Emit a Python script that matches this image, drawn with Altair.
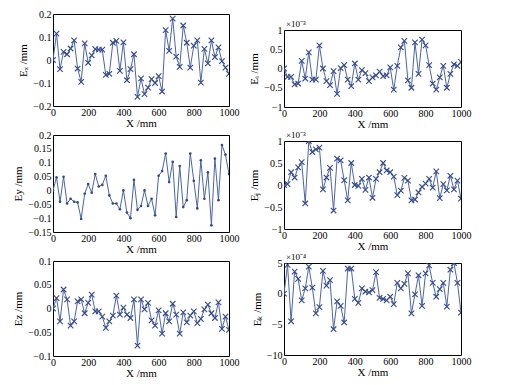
import altair as alt
import pandas as pd

x_mm = list(range(0, 1001, 20))
x_ticks = [0, 200, 400, 600, 800, 1000]

ex = [0, 0.115, -0.04, 0.035, 0.025, 0.05, 0.085, -0.037, -0.095, 0.072,
      -0.012, 0.02, 0.047, 0.045, 0.045, -0.065, -0.06, 0.075, 0.083, -0.047,
      0.077, -0.088, -0.04, 0.025, -0.16, -0.08, -0.148, -0.12, -0.083, -0.1,
      -0.07, -0.137, 0.13, 0.04, 0.18, 0.015, -0.03, 0.15, 0.075, -0.033,
      0.062, 0.085, -0.098, 0.048, -0.015, 0.085, 0.013, 0.055, -0.005, -0.033,
      -0.06]
ei = [0, -0.22, -0.22, -0.41, -0.39, 0.2, -0.26, 0.42, -0.29, -0.29,
      0.6, 0, -0.33, -0.43, -0.07, -0.66, 0.01, 0.09, -0.29, -0.46,
      0.13, -0.29, -0.04, -0.12, -0.33, -0.23, -0.18, -0.08, -0.2, -0.18,
      0.03, -0.55, 0.07, 0.55, 0.72, -0.31, -0.5, 0.68, -0.14, 0.75,
      0.6, 0.09, -0.39, -0.55, -0.23, 0.07, -0.5, -0.14, 0.11, 0.07,
      0.17]
ey = [0, 0.047, -0.041, 0.049, -0.047, -0.03, -0.041, -0.043, -0.103, -0.012,
      0.023, -0.008, 0.059, 0.014, 0.02, 0.053, -0.018, -0.047, -0.047, -0.068,
      0.0, -0.08, -0.1, 0.038, -0.07, -0.056, 0.0, -0.056, -0.03, -0.09,
      0.053, 0.07, 0.133, 0.03, 0.103, -0.096, 0.088, -0.06, -0.035, 0.133,
      0.035, -0.065, 0.109, -0.03, 0.065, -0.126, 0.115, -0.035, 0.164, 0.129,
      0.059]
ej = [0, 0.02, 0.29, 0.17, 0.4, 0.52, -0.42, 1.0, 0.75, 0.81,
      0.85, -0.1, 0.17, 0.39, -0.58, 0.6, 0.56, 0.11, -0.35, 0.5,
      0, -0.02, 0.14, -0.11, 0.17, -0.29, 0.14, 0.29, 0.5, 0.33,
      0.29, 0.19, -0.23, -0.13, 0.16, 0.1, -0.35, -0.33, -0.17, -0.04,
      0.03, 0.14, -0.06, 0.31, -0.3, 0.02, -0.12, 0.21, -0.1, 0.1,
      -0.31]
ez = [0, 0.022, -0.027, 0.04, 0.019, -0.036, -0.027, 0.015, 0.019, -0.01,
      0.012, 0.029, -0.006, -0.006, -0.017, -0.041, -0.027, -0.015, 0.027, -0.013,
      0.002, -0.013, -0.02, 0.019, -0.078, 0.019, -0.002, 0.012, -0.025, -0.036,
      -0.004, -0.053, -0.01, -0.027, 0.01, -0.013, -0.053, -0.008, -0.029, -0.015,
      -0.006, -0.031, -0.022, -0.002, 0.008, -0.01, -0.02, 0.013, -0.043, -0.017,
      -0.045]
ek = [0, 4.7, -4.5, 3.6, 2.4, -1.1, 0.85, 4.4, 1.0, -3.2,
      -2.2, 3.7, 1.3, 2.2, -5.8, -1.25, -2.0, -4.7, 4.1, 4.1,
      -0.85, -1.5, 0.85, 0.35, 0.2, 0.57, 3.5, -0.7, -0.85, -1.1,
      -0.5, -1.7, 1.75, 0.85, 1.6, 3.3, -3.2, -0.1, 3.0, -2.0,
      3.3, 4.6, 1.75, -0.5, 0.75, 1.75, -2.1, 3.9, 5.0, 1.75,
      -3.1]

LINE = "#4a64a6"
MARK = "#33498a"
FONT = "Liberation Serif"
XSHAPE = "M-1,-1L1,1M-1,1L1,-1"


def panel(values, ytitle, domain, yticks, w, h, marker="x", exp=None):
    df = pd.DataFrame({"X": x_mm, "E": values})
    base = alt.Chart(df).encode(
        x=alt.X("X:Q", scale=alt.Scale(domain=[0, 1000], nice=False),
                axis=alt.Axis(values=x_ticks, title="X /mm", labelFlush=False, format="d")),
        y=alt.Y("E:Q", scale=alt.Scale(domain=domain, nice=False, zero=False),
                axis=alt.Axis(values=yticks, title=ytitle, format=".2~f")),
    )
    line = base.mark_line(color=LINE, strokeWidth=1, clip=True)
    if marker == "x":
        pts = base.mark_point(shape=XSHAPE, size=30, filled=False, color=MARK,
                              strokeWidth=1.1, opacity=1, clip=True)
    else:
        pts = base.mark_circle(size=7, color=MARK, opacity=1, clip=True)
    layers = [line, pts]
    if exp:
        txt = alt.Chart(pd.DataFrame({"t": [exp]})).mark_text(
            align="left", baseline="bottom", fontSize=9, font=FONT, color="black"
        ).encode(text="t:N", x=alt.value(2), y=alt.value(-1))
        layers.append(txt)
    return alt.layer(*layers).properties(width=w, height=h)


p1 = panel(ex, "Eₓ /mm", [-0.2, 0.2], [-0.2, -0.1, 0, 0.1, 0.2], 176, 92)
p3 = panel(ey, "Ey /mm", [-0.15, 0.2], [-0.15, -0.1, -0.05, 0, 0.05, 0.1, 0.15, 0.2], 176, 97, marker="dot")
p5 = panel(ez, "Ez /mm", [-0.1, 0.1], [-0.1, -0.05, 0, 0.05, 0.1], 176, 95)

p2 = panel(ei, "Eᵢ /mm", [-1, 1], [-1, -0.5, 0, 0.5, 1], 177, 77, exp="×10⁻³")
p4 = panel(ej, "Eⱼ /mm", [-1, 1], [-1, -0.5, 0, 0.5, 1], 177, 88, exp="×10⁻³")
p6 = panel(ek, "Eₖ /mm", [-10, 5], [-10, -5, 0, 5], 177, 92, exp="×10⁻⁴")

spacer = alt.Chart(pd.DataFrame({"t": [""]})).mark_text().encode(
    text="t:N", x=alt.value(0), y=alt.value(0)
).properties(width=177, height=1, view=alt.ViewBackground(strokeOpacity=0))

left = alt.vconcat(p1, p3, p5, spacing=0)
right = alt.vconcat(spacer, p2, p4, p6, spacing=0)

chart = alt.hconcat(left, right, spacing=8).configure_view(
    stroke="black", strokeWidth=1
).configure_axis(
    labelFont=FONT, titleFont=FONT, labelFontSize=10, titleFontSize=11,
    labelColor="black", titleColor="black", titleFontWeight="normal",
    ticks=False, domain=False, grid=False,
).configure_axisX(
    labelPadding=1, titlePadding=0,
).configure_axisY(
    labelPadding=2, titlePadding=4,
).properties(background="white", padding={"left": 4, "top": 0, "right": 0, "bottom": 0})

chart.save("out.html", embed_options={"renderer": "svg", "actions": False})
